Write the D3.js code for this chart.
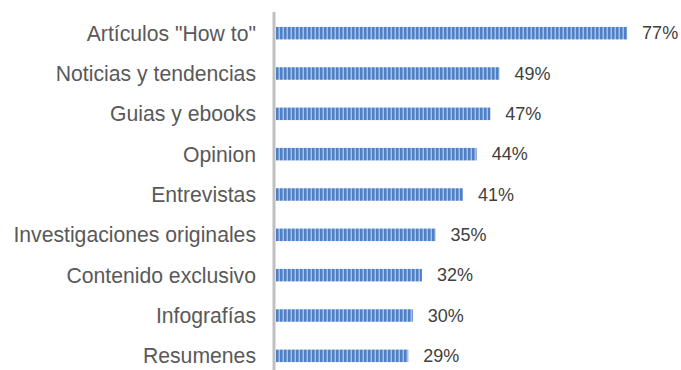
<!DOCTYPE html>
<html>
<head>
<meta charset="utf-8">
<script src="https://cdn.jsdelivr.net/npm/d3@7"></script>
<style>
  html, body { margin: 0; padding: 0; background: #ffffff; }
  svg { display: block; }
  text { font-family: "Liberation Sans", Arial, sans-serif; }
</style>
</head>
<body>
<svg id="chart" width="681" height="370"></svg>
<script>
// Content types and share of respondents (%)
const categories = [
  'Artículos "How to"',
  "Noticias y tendencias",
  "Guias y ebooks",
  "Opinion",
  "Entrevistas",
  "Investigaciones originales",
  "Contenido exclusivo",
  "Infografías",
  "Resumenes"
];
const values = [77, 49, 47, 44, 41, 35, 32, 30, 29];
const valueLabels = ["77%", "49%", "47%", "44%", "41%", "35%", "32%", "30%", "29%"];

const svg = d3.select("#chart");
const W = 681, H = 370;
const x0 = 276;

const x = d3.scaleLinear().domain([0, 100]).range([x0, x0 + 456]);
const y = d3.scaleBand()
  .domain(categories)
  .range([13, 376])
  .paddingInner(0.69)
  .paddingOuter(0.345);

// Vertical stripe fill for the bars
const defs = svg.append("defs");
const pat = defs.append("pattern")
  .attr("id", "stripes")
  .attr("patternUnits", "userSpaceOnUse")
  .attr("x", x0)
  .attr("width", 4)
  .attr("height", 4);
pat.append("rect").attr("width", 4).attr("height", 4).attr("fill", "#a2c0e8");
pat.append("rect").attr("width", 2.5).attr("height", 4).attr("fill", "#4f80c6");

const rows = svg.append("g").selectAll("g")
  .data(categories.map((c, i) => ({ c, v: values[i], label: valueLabels[i] })))
  .join("g");

rows.append("rect")
  .attr("x", x(0))
  .attr("y", d => y(d.c))
  .attr("width", d => x(d.v) - x(0))
  .attr("height", y.bandwidth())
  .attr("fill", "url(#stripes)");

rows.append("text")
  .attr("x", 256)
  .attr("y", d => y(d.c) + y.bandwidth() / 2)
  .attr("dy", "0.35em")
  .attr("text-anchor", "end")
  .attr("font-size", 21.2)
  .attr("fill", "#595959")
  .text(d => d.c);

rows.append("text")
  .attr("x", d => x(d.v) + 15)
  .attr("y", d => y(d.c) + y.bandwidth() / 2)
  .attr("dy", "0.35em")
  .attr("font-size", 18)
  .attr("fill", "#404040")
  .text(d => d.label);

// Category axis line
svg.append("line")
  .attr("x1", 274).attr("x2", 274)
  .attr("y1", 12).attr("y2", H)
  .attr("stroke", "#c0c0c0")
  .attr("stroke-width", 3);
</script>
</body>
</html>
